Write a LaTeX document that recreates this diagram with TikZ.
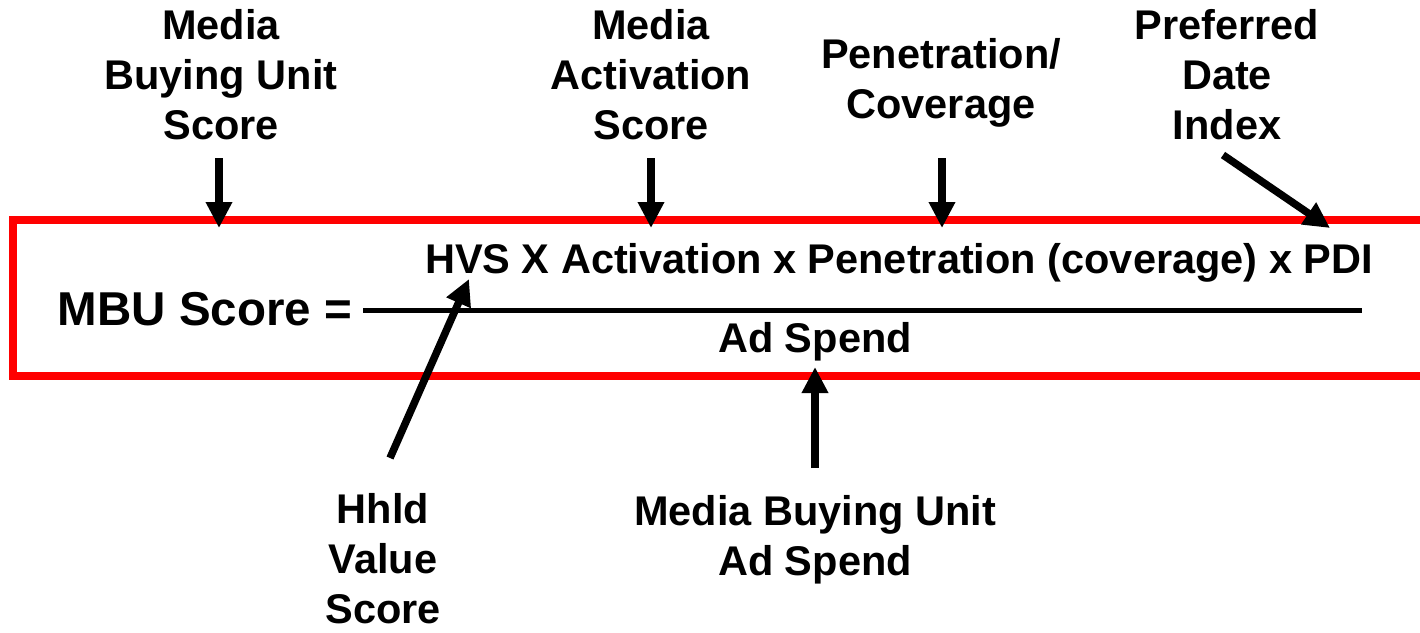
\documentclass[tikz,border=0pt]{standalone}
\usepackage{fontspec}
\setmainfont{Liberation Sans}
\usetikzlibrary{arrows.meta}
\tikzset{
  lbl/.style={font=\bfseries\fontsize{41.5}{50}\selectfont, align=center, inner sep=0pt, anchor=base},
  big/.style={font=\bfseries\fontsize{47.5}{55}\selectfont, inner sep=0pt, anchor=base},
  pointer/.style={line width=7.5pt, -{Triangle[width=25pt,length=26pt]}},
  frame/.style={draw=red, line width=8pt},
  barline/.style={line width=5pt}
}
\begin{document}
\begin{tikzpicture}[x=1pt,y=-1pt]
\useasboundingbox (0,0) rectangle (1420,632);
% red frame (open to the right edge)
\draw[frame] (1430,220) -- (13,220) -- (13,375.5) -- (1430,375.5);
% top labels (anchor = baseline of last line)
\node[lbl] (mbus) at (221,139) {Media\\Buying Unit\\Score};
\node[lbl] (mas) at (651,139) {Media\\Activation\\Score};
\node[lbl] (pen) at (941,118) {Penetration/\\Coverage};
\node[lbl] (pdi) at (1227,139) {Preferred\\Date\\Index};
% formula
\node[big] (lhs) at (205,325) {MBU Score =};
\node[lbl] (num) at (899,273) {HVS X Activation x Penetration (coverage) x PDI};
\node[lbl] (den) at (815,352) {Ad Spend};
\coordinate (barL) at (363,310);
\coordinate (barR) at (1362,310);
\draw[barline] (barL) -- (barR);
% bottom labels
\node[lbl] (hvs) at (383,623) {Hhld\\Value\\Score};
\node[lbl] (spend) at (815,575) {Media Buying Unit\\Ad Spend};
% arrow end points
\coordinate (a1s) at (219,158); \coordinate (a1e) at (219,228);
\coordinate (a2s) at (651,158); \coordinate (a2e) at (651,228);
\coordinate (a3s) at (942,158); \coordinate (a3e) at (942,228);
\coordinate (a4s) at (1223,155); \coordinate (a4e) at (1330,228);
\coordinate (a5s) at (390,458); \coordinate (a5e) at (469,279);
\coordinate (a6s) at (815,468); \coordinate (a6e) at (815,367);
\draw[pointer] (a1s) -- (a1e);
\draw[pointer] (a2s) -- (a2e);
\draw[pointer] (a3s) -- (a3e);
\draw[pointer] (a4s) -- (a4e);
\draw[pointer] (a5s) -- (a5e);
\draw[pointer] (a6s) -- (a6e);
\end{tikzpicture}
\end{document}
